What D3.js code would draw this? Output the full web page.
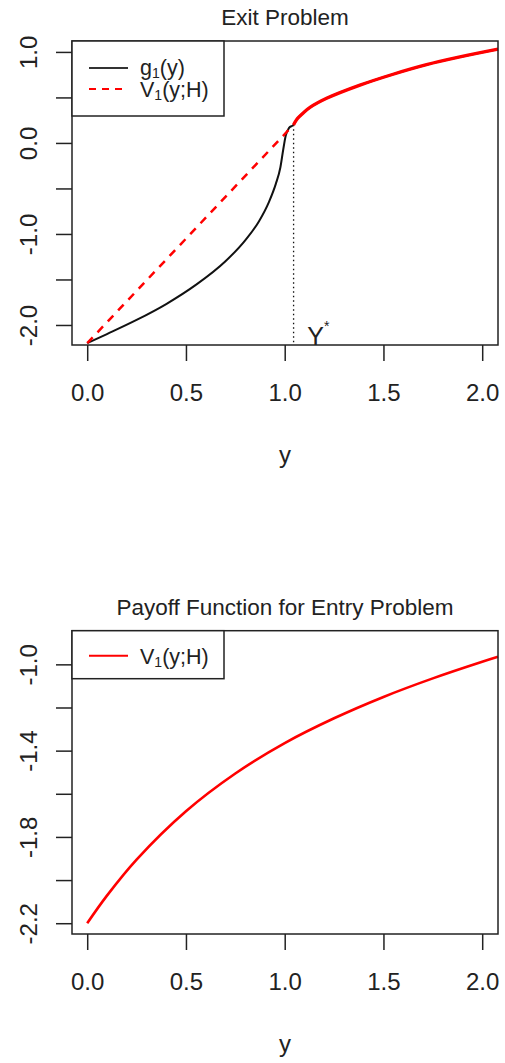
<!DOCTYPE html>
<html>
<head>
<meta charset="utf-8">
<script src="https://cdn.jsdelivr.net/npm/d3@7"></script>
<style>
  body { margin: 0; background: #fff; }
  svg { display: block; font-family: "Liberation Sans", Arial, sans-serif; }
</style>
</head>
<body>
<svg id="chart" width="505" height="1063"></svg>
<script>
// ---- data ----
const xTicks = [0, 0.5, 1.0, 1.5, 2.0];

// top panel: Exit Problem
const exitYTicks = [-2.0, -1.5, -1.0, -0.5, 0.0, 0.5, 1.0];
const exitYLabels = [-2.0, -1.0, 0.0, 1.0];
const yStar = 1.045;
const g1X = [0, 0.1, 0.25, 0.4, 0.55, 0.7, 0.8, 0.87, 0.92, 0.955, 0.978, 0.992, 1.005, 1.022, 1.045, 1.06, 1.094, 1.128, 1.212, 1.381, 1.549, 1.718, 1.887, 2.08];
const g1Y = [-2.2, -2.1, -1.945, -1.77, -1.56, -1.3, -1.07, -0.86, -0.65, -0.45, -0.27, -0.08, 0.08, 0.165, 0.2, 0.256, 0.33, 0.39, 0.49, 0.635, 0.755, 0.86, 0.945, 1.03];
const v1DashX = [0, 1.045];
const v1DashY = [-2.2, 0.2];
const v1SolidX = [1.045, 1.06, 1.094, 1.128, 1.212, 1.381, 1.549, 1.718, 1.887, 2.08];
const v1SolidY = [0.2, 0.256, 0.33, 0.39, 0.49, 0.635, 0.755, 0.86, 0.945, 1.03];

// bottom panel: Payoff Function for Entry Problem
const entryYTicks = [-2.2, -2.0, -1.8, -1.6, -1.4, -1.2, -1.0];
const entryYLabels = [-2.2, -1.8, -1.4, -1.0];
const entryX = [0, 0.1, 0.25, 0.5, 0.75, 1.0, 1.25, 1.5, 1.75, 2.0, 2.08];
const entryY = [-2.2, -2.072, -1.905, -1.681, -1.506, -1.365, -1.25, -1.151, -1.065, -0.988, -0.965];

const svg = d3.select('#chart');
const ink = '#222';

function panel(opts) {
  const x = d3.scaleLinear().domain([-0.077, 2.08]).range([72, 498]);
  const y = d3.scaleLinear().domain(opts.yDomain).range([opts.bottom, opts.top]);
  const g = svg.append('g');

  // title
  g.append('text')
    .attr('x', (x.range()[0] + x.range()[1]) / 2)
    .attr('y', opts.top - 16)
    .attr('text-anchor', 'middle')
    .style('font-size', '22.5px')
    .attr('fill', ink)
    .text(opts.title);

  // x axis
  const xa = g.append('g')
    .attr('transform', `translate(0, ${opts.bottom})`)
    .call(d3.axisBottom(x).tickValues(xTicks).tickSize(16).tickSizeOuter(0)
      .tickFormat(d3.format('.1f')));
  xa.select('.domain').remove();
  xa.selectAll('line').attr('stroke', ink).attr('stroke-width', 1.5);
  xa.selectAll('text').attr('y', 56).attr('dy', 0)
    .style('font-size', '24px').attr('fill', ink).attr('font-family', null);

  // y axis, only some ticks get a label (as R drops the crowded ones)
  const ya = g.append('g')
    .attr('transform', `translate(${x.range()[0]}, 0)`)
    .call(d3.axisLeft(y).tickValues(opts.yTicks).tickSize(16).tickSizeOuter(0)
      .tickFormat(d => opts.yLabels.some(v => Math.abs(v - d) < 1e-9) ? d3.format('.1f')(d).replace('−', '-') : ''));
  ya.select('.domain').remove();
  ya.selectAll('line').attr('stroke', ink).attr('stroke-width', 1.5);
  ya.selectAll('text')
    .attr('x', null).attr('dy', 0)
    .attr('transform', 'translate(-35, 0) rotate(-90)')
    .attr('text-anchor', 'middle')
    .style('font-size', '24px').attr('fill', ink).attr('font-family', null);

  // x label
  g.append('text')
    .attr('x', (x.range()[0] + x.range()[1]) / 2)
    .attr('y', opts.bottom + 118)
    .attr('text-anchor', 'middle')
    .style('font-size', '24px')
    .attr('fill', ink)
    .text('y');

  const line = (xs, ys, curve = d3.curveMonotoneX) => d3.line()
    .x(i => x(xs[i]))
    .y(i => y(ys[i]))
    .curve(curve)(d3.range(xs.length));

  return { x, y, g, line };
}

function legendText(sel, main, rest) {
  const t = sel.append('text').style('font-size', '21.5px').attr('fill', ink);
  t.append('tspan').text(main);
  t.append('tspan').text('1').style('font-size', '14px').attr('dy', 3);
  t.append('tspan').text(rest).attr('dy', -3);
  return t;
}

// ---- top panel ----
const p1 = panel({
  title: 'Exit Problem', top: 41, bottom: 345, yDomain: [-2.22, 1.12],
  yTicks: exitYTicks, yLabels: exitYLabels
});

p1.g.append('path').attr('d', p1.line(g1X, g1Y))
  .attr('fill', 'none').attr('stroke', '#111').attr('stroke-width', 2);

p1.g.append('line')
  .attr('x1', p1.x(yStar)).attr('x2', p1.x(yStar))
  .attr('y1', p1.y(v1DashY[1])).attr('y2', p1.y.range()[0])
  .attr('stroke', '#111').attr('stroke-width', 1.3).attr('stroke-dasharray', '1.5,3');

p1.g.append('path').attr('d', p1.line(v1DashX, v1DashY))
  .attr('fill', 'none').attr('stroke', '#ff0000').attr('stroke-width', 2.5)
  .attr('stroke-dasharray', '8,7');

p1.g.append('path').attr('d', p1.line(v1SolidX, v1SolidY, d3.curveCatmullRom.alpha(0.5)))
  .attr('fill', 'none').attr('stroke', '#ff0000').attr('stroke-width', 3.3);

// Y* label
const ys = p1.g.append('text')
  .attr('x', p1.x(1.17)).attr('y', p1.y.range()[0])
  .attr('text-anchor', 'middle').style('font-size', '25px').attr('fill', ink);
ys.append('tspan').text('Y');
ys.append('tspan').text('*').style('font-size', '14px').attr('dy', -14);

// box
p1.g.append('rect')
  .attr('x', p1.x.range()[0]).attr('y', p1.y.range()[1])
  .attr('width', p1.x.range()[1] - p1.x.range()[0])
  .attr('height', p1.y.range()[0] - p1.y.range()[1])
  .attr('fill', 'none').attr('stroke', ink).attr('stroke-width', 1.5);

// legend
const l1 = p1.g.append('g').attr('transform', `translate(${p1.x.range()[0]}, ${p1.y.range()[1]})`);
l1.append('rect').attr('width', 152).attr('height', 75)
  .attr('fill', '#fff').attr('stroke', ink).attr('stroke-width', 1.5);
l1.append('line').attr('x1', 17).attr('x2', 56).attr('y1', 27).attr('y2', 27)
  .attr('stroke', '#333').attr('stroke-width', 2);
l1.append('line').attr('x1', 17).attr('x2', 56).attr('y1', 48).attr('y2', 48)
  .attr('stroke', '#ff0000').attr('stroke-width', 2).attr('stroke-dasharray', '7,6');
legendText(l1, 'g', '(y)').attr('x', 68).attr('y', 34);
legendText(l1, 'V', '(y;H)').attr('x', 68).attr('y', 56);

// ---- bottom panel ----
const p2 = panel({
  title: 'Payoff Function for Entry Problem', top: 630.7, bottom: 934, yDomain: [-2.25, -0.844],
  yTicks: entryYTicks, yLabels: entryYLabels
});

p2.g.append('path').attr('d', p2.line(entryX, entryY, d3.curveCatmullRom.alpha(0.5)))
  .attr('fill', 'none').attr('stroke', '#ff0000').attr('stroke-width', 2.6);

p2.g.append('rect')
  .attr('x', p2.x.range()[0]).attr('y', p2.y.range()[1])
  .attr('width', p2.x.range()[1] - p2.x.range()[0])
  .attr('height', p2.y.range()[0] - p2.y.range()[1])
  .attr('fill', 'none').attr('stroke', ink).attr('stroke-width', 1.5);

const l2 = p2.g.append('g').attr('transform', `translate(${p2.x.range()[0]}, ${p2.y.range()[1]})`);
l2.append('rect').attr('width', 152).attr('height', 48)
  .attr('fill', '#fff').attr('stroke', ink).attr('stroke-width', 1.5);
l2.append('line').attr('x1', 17).attr('x2', 56).attr('y1', 25).attr('y2', 25)
  .attr('stroke', '#ff0000').attr('stroke-width', 2);
legendText(l2, 'V', '(y;H)').attr('x', 68).attr('y', 33);
</script>
</body>
</html>
